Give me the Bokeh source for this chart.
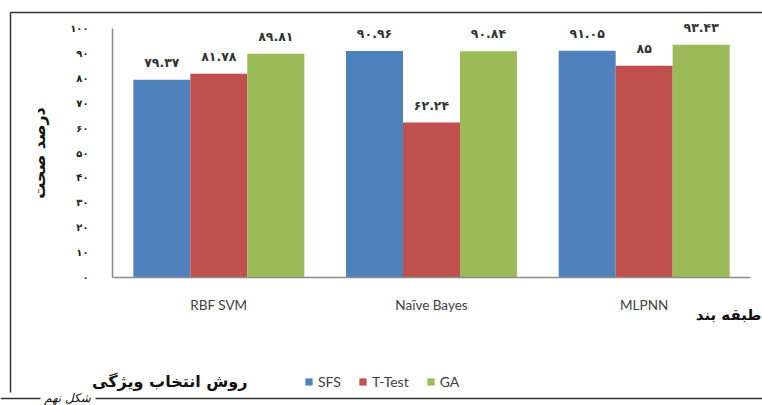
from bokeh.plotting import figure
from bokeh.models import (ColumnDataSource, Range1d, Legend, LegendItem,
                          Label, BoxAnnotation, FixedTicker)
from bokeh.core.properties import value
from bokeh.embed import file_html
from bokeh.resources import INLINE

# ---- data ----
classifiers = ["RBF SVM", "Naïve Bayes", "MLPNN"]
methods = ["SFS", "T-Test", "GA"]
sfs = [79.37, 90.96, 91.05]
ttest = [81.78, 62.24, 85]
ga = [89.81, 90.84, 93.43]
y_ticks = list(range(0, 101, 10))
colors = ["#4F81BD", "#C0504D", "#9BBB59"]

y_title = "درصد صحت"
x_title = "طبقه بند"
legend_title = "روش انتخاب ویژگی"
caption = "شکل نهم"

FA = str.maketrans("0123456789", "۰۱۲۳۴۵۶۷۸۹")


def fa(v):
    return ("%g" % v).translate(FA)


W, H = 762, 405
# pixel geometry of the plotting region (axis at x=112..750, y: 0 at 277, 100 at 28)
AX_L, AX_R, Y0, Y100 = 112, 750, 277, 28
ux = (AX_R - AX_L) / len(classifiers)
uy = (Y0 - Y100) / 100.0

p = figure(width=W, height=H, output_backend="svg", toolbar_location=None,
           x_range=Range1d(-AX_L / ux, (W - AX_L) / ux),
           y_range=Range1d((Y0 - H) / uy, Y0 / uy),
           min_border=0, min_border_left=0, min_border_right=0,
           min_border_top=0, min_border_bottom=0)
p.outline_line_color = None
p.grid.grid_line_color = None
p.background_fill_color = "white"
p.border_fill_color = "white"

centers = [i + 0.5 for i in range(len(classifiers))]
bw = 0.268
offsets = [-bw, 0.0, bw]
renderers = []
for vals, name, col, off in zip([sfs, ttest, ga], methods, colors, offsets):
    src = ColumnDataSource(dict(x=[c + off for c in centers], val=vals,
                                lbl=[fa(v) for v in vals]))
    r = p.vbar(x="x", top="val", width=bw, source=src,
               fill_color=col, line_color=None)
    renderers.append((name, r))
    p.text(x="x", y="val", text="lbl", source=src,
           text_align="center", text_baseline="bottom", y_offset=-10,
           text_font=value("DejaVu Sans"), text_font_style="bold", text_font_size="12.5px",
           text_color="#333333")

# axes
p.yaxis.fixed_location = 0
p.xaxis.fixed_location = 0
p.yaxis.bounds = (0, 100)
p.xaxis.bounds = (0, len(classifiers))
p.yaxis.ticker = FixedTicker(ticks=y_ticks)
p.yaxis.major_label_overrides = {t: fa(t) for t in y_ticks}
p.yaxis.major_label_text_font = "DejaVu Sans"
p.yaxis.major_label_text_font_style = "bold"
p.yaxis.major_label_text_font_size = "10px"
p.yaxis.major_label_text_color = "#222222"
p.yaxis.major_label_standoff = 18
p.yaxis.axis_label = y_title
p.yaxis.axis_label_text_font = "DejaVu Sans"
p.yaxis.axis_label_text_font_style = "bold"
p.yaxis.axis_label_text_font_size = "16px"
p.yaxis.axis_label_text_color = "#111111"
p.yaxis.axis_label_standoff = 18
p.xaxis.ticker = FixedTicker(ticks=centers)
p.xaxis.major_label_overrides = {c: n for c, n in zip(centers, classifiers)}
for ax in (p.xaxis, p.yaxis):
    ax.axis_line_color = "#8c8c8c"
    ax.axis_line_width = 1.5
    ax.major_tick_line_color = None
    ax.minor_tick_line_color = None
p.xaxis.major_label_text_font = "Lato"
p.xaxis.major_label_text_font_size = "13.5px"
p.xaxis.major_label_text_color = "#404040"
p.xaxis.major_label_standoff = 13

# x axis title (right side)
p.add_layout(Label(x=761, y=H - 314, x_units="screen", y_units="screen", text=x_title,
                   text_align="right", text_baseline="middle", text_font="DejaVu Sans",
                   text_font_style="bold", text_font_size="15px", text_color="#111111"))

# legend
legend = Legend(items=[LegendItem(label=n, renderers=[r]) for n, r in renderers],
                orientation="horizontal", location=(304, H - 390),
                glyph_width=9, glyph_height=9, label_standoff=5, spacing=17,
                padding=0, margin=0, border_line_color=None, background_fill_alpha=0,
                label_text_font="Lato", label_text_font_size="14px",
                label_text_color="#404040")
p.add_layout(legend)

p.add_layout(Label(x=247, y=H - 381, x_units="screen", y_units="screen", text=legend_title,
                   text_align="right", text_baseline="middle", text_font="DejaVu Sans",
                   text_font_style="bold", text_font_size="16px", text_color="#111111"))


# outer frame lines
def hline(x0, x1, yy):
    p.add_layout(BoxAnnotation(left=x0, right=x1, top=H - yy + 0.75, bottom=H - yy - 0.75,
                               left_units="screen", right_units="screen",
                               top_units="screen", bottom_units="screen",
                               fill_color="#333333", fill_alpha=1, line_color=None,
                               level="overlay"))


def vline(xx, y0, y1):
    p.add_layout(BoxAnnotation(left=xx - 0.75, right=xx + 0.75, top=H - y0, bottom=H - y1,
                               left_units="screen", right_units="screen",
                               top_units="screen", bottom_units="screen",
                               fill_color="#333333", fill_alpha=1, line_color=None,
                               level="overlay"))


vline(10, 12, 392)
hline(10, W, 12)
hline(0, 40, 398)
hline(95, W, 398)
p.add_layout(Label(x=67, y=H - 397, x_units="screen", y_units="screen", text=caption,
                   text_align="center", text_baseline="middle", text_font="DejaVu Sans",
                   text_font_style="italic", text_font_size="12px", text_color="#111111"))

open("out.html", "w").write(file_html(p, INLINE))
